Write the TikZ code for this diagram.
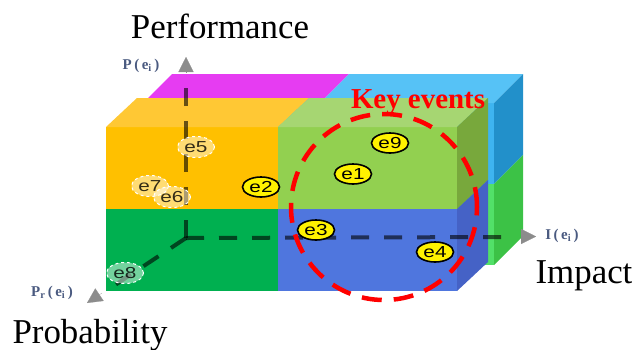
\documentclass[tikz,border=0pt]{standalone}
\usepackage{fontspec}
\setmainfont{Liberation Serif}
\newfontfamily\evfont[FakeStretch=1.3]{Liberation Sans}
\usepackage{xcolor}
\usetikzlibrary{arrows.meta}
\usetikzlibrary{shapes.geometric}
% colours of the blocks
\definecolor{orangefront}{HTML}{FFC000}
\definecolor{orangetop}{HTML}{FFC834}
\definecolor{limefront}{HTML}{92D050}
\definecolor{limetop}{HTML}{A6D672}
\definecolor{limeside}{HTML}{78A83C}
\definecolor{grassfront}{HTML}{00B050}
\definecolor{bluefront}{HTML}{4F76DE}
\definecolor{blueside}{HTML}{4562C6}
\definecolor{magentatop}{HTML}{E63CF2}
\definecolor{skytop}{HTML}{56C2F6}
\definecolor{skyfront}{HTML}{3EB4F0}
\definecolor{skyside}{HTML}{2290CA}
\definecolor{leaffront}{HTML}{52E068}
\definecolor{leafside}{HTML}{3CC246}
\definecolor{axisgray}{HTML}{8C8C8C}
\definecolor{labelblue}{HTML}{4A5A80}
\tikzset{
  event/.style={ellipse, draw=black, line width=1.6bp, fill=yellow,
    minimum width=37bp, minimum height=20bp, inner sep=0pt,
    font=\evfont\fontsize{16}{16}\selectfont},
  faded/.style={ellipse, draw=white, dashed, line width=1bp,
    fill=white, fill opacity=0.45, text opacity=0.8,
    minimum width=37bp, minimum height=21bp, inner sep=0pt,
    font=\evfont\fontsize{16}{16}\selectfont},
  axisline/.style={line width=4bp, black, opacity=0.6,
    dash pattern=on 18bp off 15bp},
  axistip/.style={-{Triangle[length=15bp,width=15bp]}, axisgray, line width=0.2bp},
  biglabel/.style={font=\fontsize{35}{40}\selectfont, inner sep=0pt},
  axislabel/.style={font=\bfseries\fontsize{15}{17}\selectfont, labelblue, inner sep=0pt},
  keyring/.style={circle, draw=red, line width=4.5bp,
    dash pattern=on 20bp off 12bp, minimum size=186bp, inner sep=0pt}
}
\begin{document}
\begin{tikzpicture}[x=1bp,y=-1bp]
  \useasboundingbox (0,0) rectangle (638,349);
  % back block
  \fill[skyfront] (143,103) rectangle (494,184);
  \fill[leaffront] (143,184) rectangle (494,265);
  \fill[magentatop] (143,103) -- (172,74) -- (349,74) -- (320,103) -- cycle;
  \fill[skytop] (320,103) -- (349,74) -- (523,74) -- (494,103) -- cycle;
  \fill[skyside] (494,103) -- (523,74) -- (523,155) -- (494,184) -- cycle;
  \fill[leafside] (494,184) -- (523,155) -- (523,236) -- (494,265) -- cycle;
  % front block
  \fill[orangefront] (106,127) rectangle (278,209);
  \fill[limefront] (278,127) rectangle (457,209);
  \fill[grassfront] (106,209) rectangle (278,291);
  \fill[bluefront] (278,209) rectangle (457,291);
  \fill[orangetop] (106,127) -- (137,98) -- (309,98) -- (278,127) -- cycle;
  \fill[limetop] (278,127) -- (309,98) -- (488,98) -- (457,127) -- cycle;
  \fill[limeside] (457,127) -- (488,98) -- (488,180) -- (457,209) -- cycle;
  \fill[blueside] (457,209) -- (488,180) -- (488,262) -- (457,291) -- cycle;

  % axes
  \coordinate (O) at (186,238);
  \coordinate (pend) at (186,88);
  \coordinate (pbase) at (186,72);
  \coordinate (ptip) at (186,57);
  \coordinate (iend) at (508,237);
  \coordinate (ibase) at (521,236.5);
  \coordinate (itip) at (536,236.5);
  \coordinate (rend) at (112,287);
  \coordinate (rbase) at (102,293);
  \coordinate (rtip) at (87,303);
  \draw[axisline] (O) -- (pend);
  \draw[axisline] (O) -- (iend);
  \draw[axisline] (O) -- (rend);
  \draw[axistip] (pbase) -- (ptip);
  \draw[axistip] (ibase) -- (itip);
  \draw[axistip] (rbase) -- (rtip);

  % key events
  \node[keyring] (key) at (384,207) {};
  \node[anchor=base, text=red, inner sep=0pt,
    font=\bfseries\fontsize{29}{32}\selectfont] (keylbl) at (418,108) {Key events};

  % events
  \node[event] (e9) at (390,143) {e9};
  \node[event] (e1) at (353,174) {e1};
  \node[event] (e2) at (261,187) {e2};
  \node[event] (e3) at (316,230) {e3};
  \node[event] (e4) at (435,252) {e4};
  \node[faded] (e5) at (196,147) {e5};
  \node[faded] (e7) at (150,186) {e7};
  \node[faded] (e6) at (172,197) {e6};
  \node[faded] (e8) at (125,273) {e8};

  % labels
  \node[biglabel, anchor=base] (perf) at (220,38) {Performance};
  \node[biglabel, anchor=base] (imp) at (584,283) {Impact};
  \node[biglabel, anchor=base] (prob) at (90,343) {Probability};
  \node[axislabel] (plbl) at (141,66) {P\,(\,e\textsubscript{i}\,)};
  \node[axislabel] (ilbl) at (562,236) {I\,(\,e\textsubscript{i}\,)};
  \node[axislabel] (prlbl) at (52,293) {P\textsubscript{r}\,(\,e\textsubscript{i}\,)};
\end{tikzpicture}
\end{document}
